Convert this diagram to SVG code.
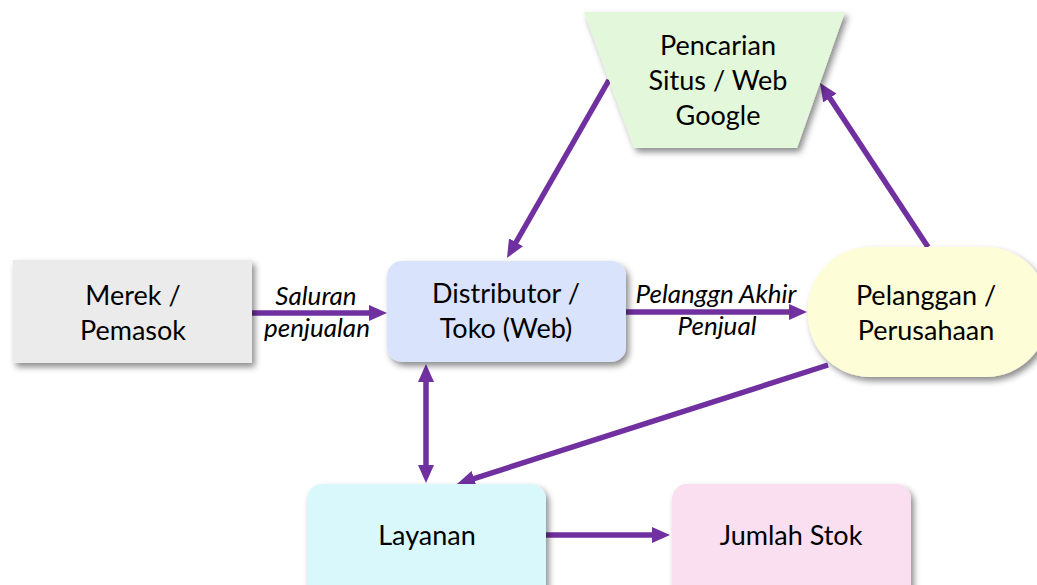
<svg xmlns="http://www.w3.org/2000/svg" width="1037" height="585" viewBox="0 0 1037 585">
  <defs>
    <filter id="shadow" x="-10%" y="-10%" width="130%" height="140%">
      <feDropShadow dx="3" dy="4" stdDeviation="3" flood-color="#000" flood-opacity="0.45"/>
    </filter>
    <marker id="head" viewBox="0 0 18 16" markerWidth="18" markerHeight="16" refX="10" refY="8" orient="auto-start-reverse" markerUnits="userSpaceOnUse">
      <path d="M0,0 L18,8 L0,16 z" fill="#7030a0"/>
    </marker>
  </defs>
  <style>
    .node-text { font-family: Lato, "Open Sans", sans-serif; font-size: 27px; fill: #000; text-anchor: middle; }
    .edge-label { font-family: Lato, "Open Sans", sans-serif; font-size: 26px; font-style: italic; fill: #000; text-anchor: middle; }
    .edge { stroke: #7030a0; stroke-width: 5.5; fill: none; marker-end: url(#head); }
    .shape { filter: url(#shadow); }
  </style>
  <rect width="1037" height="585" fill="#ffffff"/>

  <!-- connectors -->
  <g id="connectors">
    <line class="edge" x1="252" y1="313" x2="379" y2="313"/>
    <line class="edge" x1="626" y1="312" x2="799" y2="312"/>
    <line class="edge" x1="609" y1="80" x2="511" y2="251"/>
    <line class="edge" x1="928" y1="247" x2="824.4" y2="89.7"/>
    <line class="edge" x1="828" y1="365" x2="464.6" y2="481.6"/>
    <line class="edge" x1="426" y1="372" x2="426" y2="475" style="marker-start:url(#head)"/>
    <line class="edge" x1="546" y1="535" x2="662" y2="535"/>
    <text class="edge-label" x="316" y="305">Saluran</text>
    <text class="edge-label" x="317" y="337">penjualan</text>
    <text class="edge-label" x="716" y="303">Pelanggn Akhir</text>
    <text class="edge-label" x="717" y="335">Penjual</text>
  </g>

  <!-- nodes -->
  <g id="merek">
    <rect class="shape" x="13" y="260" width="239" height="103" fill="#ebebeb"/>
    <text class="node-text" x="133" y="305">Merek /</text>
    <text class="node-text" x="133" y="340">Pemasok</text>
  </g>

  <g id="distributor">
    <rect class="shape" x="387" y="261" width="239" height="101" rx="15" fill="#dae3fc"/>
    <text class="node-text" x="506" y="303">Distributor /</text>
    <text class="node-text" x="506" y="338">Toko (Web)</text>
  </g>

  <g id="pencarian">
    <path class="shape" d="M584,12 L845,12 L797,148 L634,148 z" fill="#e3f8da"/>
    <text class="node-text" x="718" y="55">Pencarian</text>
    <text class="node-text" x="718" y="90">Situs / Web</text>
    <text class="node-text" x="718" y="125">Google</text>
  </g>

  <g id="pelanggan">
    <rect class="shape" x="808" y="247" width="240" height="130" rx="62" ry="62" fill="#fdfdd7"/>
    <text class="node-text" x="926" y="305">Pelanggan /</text>
    <text class="node-text" x="926" y="340">Perusahaan</text>
  </g>

  <g id="layanan">
    <rect class="shape" x="307" y="484" width="239" height="120" rx="15" fill="#d9f8fb"/>
    <text class="node-text" x="427" y="545">Layanan</text>
  </g>

  <g id="jumlah-stok">
    <rect class="shape" x="672" y="484" width="239" height="120" rx="15" fill="#f9dff0"/>
    <text class="node-text" x="791" y="545">Jumlah Stok</text>
  </g>
</svg>
